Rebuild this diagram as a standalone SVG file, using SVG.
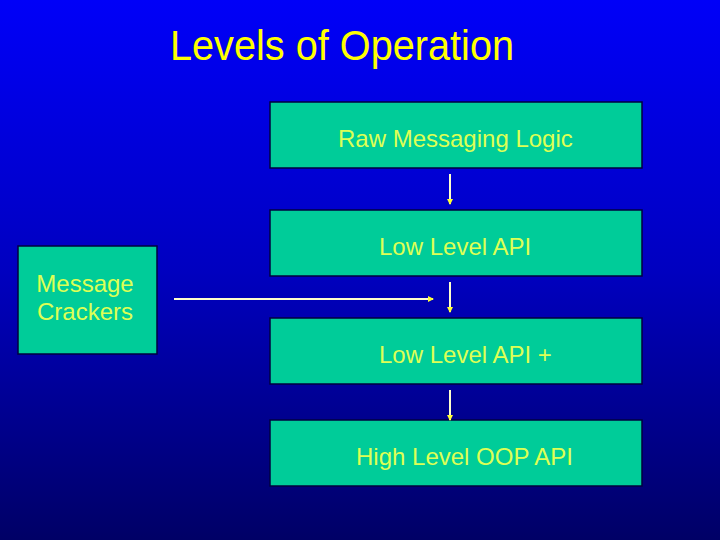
<svg xmlns="http://www.w3.org/2000/svg" width="720" height="540" viewBox="0 0 720 540">
<defs>
<linearGradient id="bg" x1="0" y1="0" x2="0" y2="1">
<stop offset="0" stop-color="#0000f8"/>
<stop offset="0.5" stop-color="#0000c0"/>
<stop offset="1" stop-color="#000066"/>
</linearGradient>
<marker id="ah" viewBox="0 0 6 6" refX="5" refY="3" markerWidth="3" markerHeight="3" orient="auto" markerUnits="strokeWidth">
<path d="M0,0 L6,3 L0,6 Z" fill="#ffff33"/>
</marker>
<style>
.box{fill:#00cc99;stroke:#000040;stroke-width:1.5}
.lbl{font-family:"Liberation Sans",Arial,sans-serif;font-size:24px;fill:#ddff55}
.title{font-family:"Liberation Sans",Arial,sans-serif;font-size:42px;fill:#ffff00}
.conn{stroke:#ffffcc;stroke-width:2;fill:none;marker-end:url(#ah)}
</style>
</defs>
<rect x="0" y="0" width="720" height="540" fill="url(#bg)"/>
<text class="title" x="170" y="60" textLength="344" lengthAdjust="spacingAndGlyphs">Levels of Operation</text>
<g id="raw">
<rect class="box" x="270" y="102" width="372" height="66"/>
<text class="lbl" x="338" y="147">Raw Messaging Logic</text>
</g>
<g id="low">
<rect class="box" x="270" y="210" width="372" height="66"/>
<text class="lbl" x="379" y="255">Low Level API</text>
</g>
<g id="lowplus">
<rect class="box" x="270" y="318" width="372" height="66"/>
<text class="lbl" x="379" y="363">Low Level API +</text>
</g>
<g id="high">
<rect class="box" x="270" y="420" width="372" height="66"/>
<text class="lbl" x="356" y="465">High Level OOP API</text>
</g>
<g id="crackers">
<rect class="box" x="18" y="246" width="139" height="108"/>
<text class="lbl" x="85" y="292" text-anchor="middle">Message</text>
<text class="lbl" x="85" y="320" text-anchor="middle">Crackers</text>
</g>
<g id="connectors">
<line class="conn" x1="450" y1="174" x2="450" y2="204"/>
<line class="conn" x1="450" y1="282" x2="450" y2="312"/>
<line class="conn" x1="450" y1="390" x2="450" y2="420"/>
<line class="conn" x1="174" y1="299" x2="433" y2="299"/>
</g>
</svg>
